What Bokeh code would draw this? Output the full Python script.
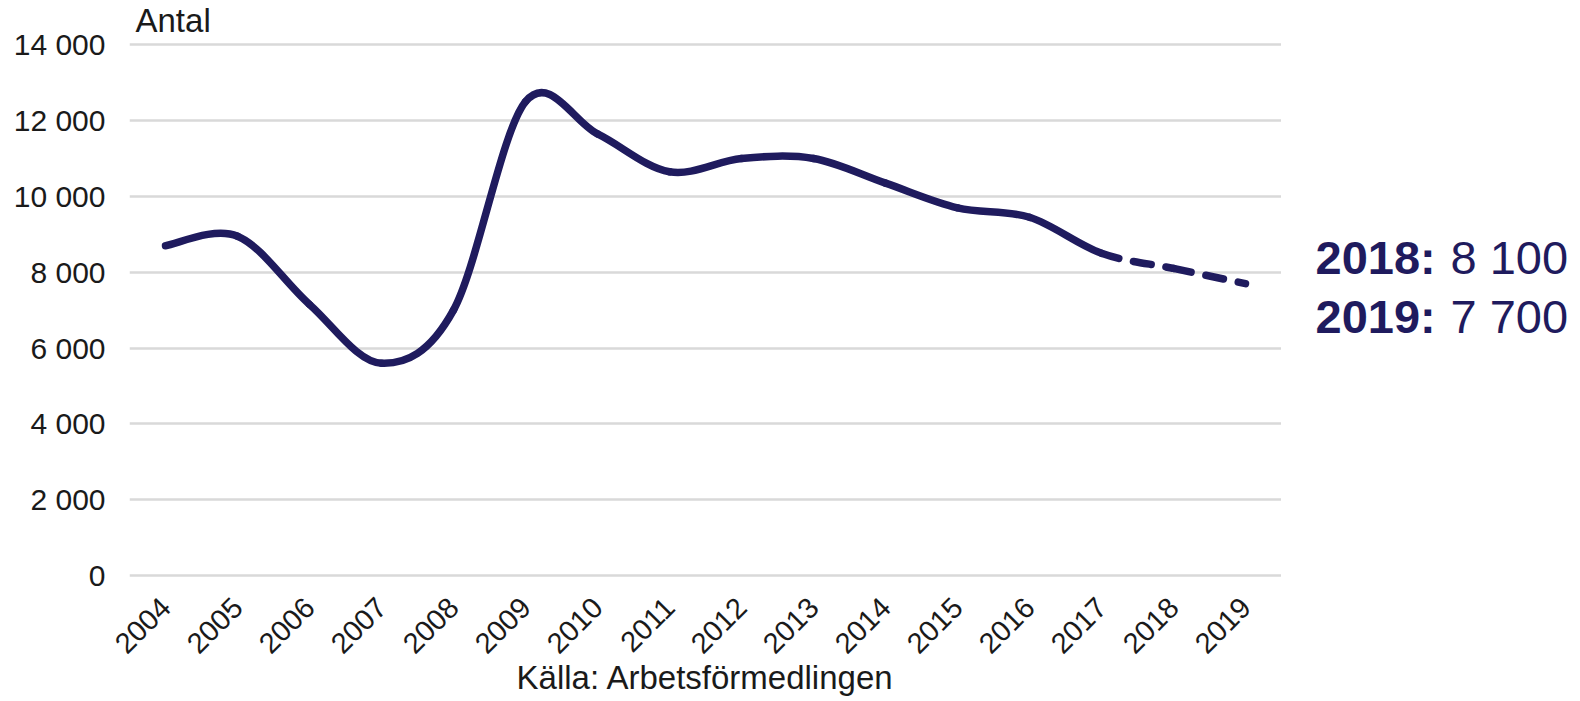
import numpy as np
from math import pi
from bokeh.plotting import figure
from bokeh.layouts import row
from bokeh.models import Range1d, FixedTicker, Label, ColumnDataSource
from bokeh.embed import file_html
from bokeh.resources import INLINE

# ---- data ----
years = [2004, 2005, 2006, 2007, 2008, 2009, 2010, 2011,
         2012, 2013, 2014, 2015, 2016, 2017, 2018, 2019]
values = [8700, 8950, 7150, 5600, 7000, 12500, 11650, 10650,
          11000, 11000, 10350, 9700, 9450, 8500, 8100, 7700]
year_labels = ["2004", "2005", "2006", "2007", "2008", "2009", "2010", "2011",
               "2012", "2013", "2014", "2015", "2016", "2017", "2018", "2019"]
y_ticks = [0, 2000, 4000, 6000, 8000, 10000, 12000, 14000]
y_tick_labels = ["0", "2 000", "4 000", "6 000", "8 000", "10 000", "12 000", "14 000"]
last_actual_year = 2017
forecast_years = ["2018:", "2019:"]
forecast_values = ["8 100", "7 700"]
y_title = "Antal"
source_text = "Källa: Arbetsförmedlingen"

NAVY = "#1f1b5e"
TXT = "#1a1a1a"
FONT = "Liberation Sans"

# ---- smoothed curve (Catmull-Rom style bezier segments) ----
x = np.array(years, dtype=float)
y = np.array(values, dtype=float)
n = len(x)
i = np.arange(n - 1)
prv = np.maximum(i - 1, 0)
nxt = np.minimum(i + 2, n - 1)
seg = dict(
    x0=x[i], y0=y[i], x1=x[i + 1], y1=y[i + 1],
    cx0=x[i] + (x[i + 1] - x[prv]) / 6.0,
    cy0=y[i] + (y[i + 1] - y[prv]) / 6.0,
    cx1=x[i + 1] - (x[nxt] - x[i]) / 6.0,
    cy1=y[i + 1] - (y[nxt] - y[i]) / 6.0,
)
solid = x[i + 1] <= last_actual_year
dashed = ~solid
src_solid = ColumnDataSource({k: v[solid] for k, v in seg.items()})
src_dash = ColumnDataSource({k: v[dashed] for k, v in seg.items()})

p = figure(width=1281, height=701,
           x_range=Range1d(years[0] - 0.5, years[-1] + 0.5),
           y_range=Range1d(-53, 15169),
           output_backend="svg", toolbar_location=None,
           min_border_left=129, min_border_right=0,
           min_border_top=0, min_border_bottom=124)
p.outline_line_color = None
p.background_fill_color = "white"
p.border_fill_color = "white"

p.xgrid.visible = False
p.ygrid.ticker = FixedTicker(ticks=y_ticks)
p.ygrid.grid_line_color = "#d9d9d9"
p.ygrid.grid_line_width = 2.5

p.yaxis.ticker = FixedTicker(ticks=y_ticks)
p.yaxis.major_label_overrides = {t: s for t, s in zip(y_ticks, y_tick_labels)}
p.yaxis.axis_line_color = None
p.yaxis.major_tick_line_color = None
p.yaxis.minor_tick_line_color = None
p.yaxis.major_tick_out = 0
p.yaxis.major_tick_in = 0
p.yaxis.major_label_standoff = 24
p.yaxis.major_label_text_font = FONT
p.yaxis.major_label_text_font_size = "30px"
p.yaxis.major_label_text_color = TXT

p.xaxis.ticker = FixedTicker(ticks=years)
p.xaxis.major_label_overrides = {t: s for t, s in zip(years, year_labels)}
p.xaxis.axis_line_color = None
p.xaxis.major_tick_line_color = None
p.xaxis.minor_tick_line_color = None
p.xaxis.major_tick_out = 0
p.xaxis.major_tick_in = 0
p.xaxis.major_label_orientation = pi / 4
p.xaxis.major_label_standoff = 25
p.xaxis.major_label_text_font = FONT
p.xaxis.major_label_text_font_size = "29px"
p.xaxis.major_label_text_color = TXT
p.xaxis.axis_label = source_text
p.xaxis.axis_label_text_font = FONT
p.xaxis.axis_label_text_font_size = "33px"
p.xaxis.axis_label_text_font_style = "normal"
p.xaxis.axis_label_text_color = TXT
p.xaxis.axis_label_standoff = -6

p.bezier(x0="x0", y0="y0", x1="x1", y1="y1", cx0="cx0", cy0="cy0",
         cx1="cx1", cy1="cy1", source=src_solid,
         line_color=NAVY, line_width=7.5, line_cap="round")
p.bezier(x0="x0", y0="y0", x1="x1", y1="y1", cx0="cx0", cy0="cy0",
         cx1="cx1", cy1="cy1", source=src_dash,
         line_color=NAVY, line_width=7.5, line_cap="round", line_dash="18 15")

p.add_layout(Label(x=6, y=557, x_units="screen", y_units="screen", text=y_title,
                   text_font=FONT, text_font_size="33px", text_color=TXT,
                   text_baseline="alphabetic"))

# ---- right-hand annotation panel ----
side = figure(width=299, height=701, x_range=Range1d(0, 299), y_range=Range1d(0, 701),
              output_backend="svg", toolbar_location=None,
              x_axis_location=None, y_axis_location=None,
              min_border_left=0, min_border_right=0,
              min_border_top=0, min_border_bottom=0)
side.outline_line_color = None
side.grid.visible = False
side.background_fill_color = "white"
side.border_fill_color = "white"

for k, (yr, val) in enumerate(zip(forecast_years, forecast_values)):
    base = 320 - 58.5 * k
    side.add_layout(Label(x=34, y=base, x_units="screen", y_units="screen", text=yr,
                          text_font=FONT, text_font_size="47px", text_font_style="bold",
                          text_color=NAVY, text_baseline="alphabetic"))
    side.add_layout(Label(x=169, y=base, x_units="screen", y_units="screen", text=val,
                          text_font=FONT, text_font_size="47px", text_color=NAVY,
                          text_baseline="alphabetic"))

layout = row(p, side)
open("out.html", "w").write(file_html(layout, INLINE))
